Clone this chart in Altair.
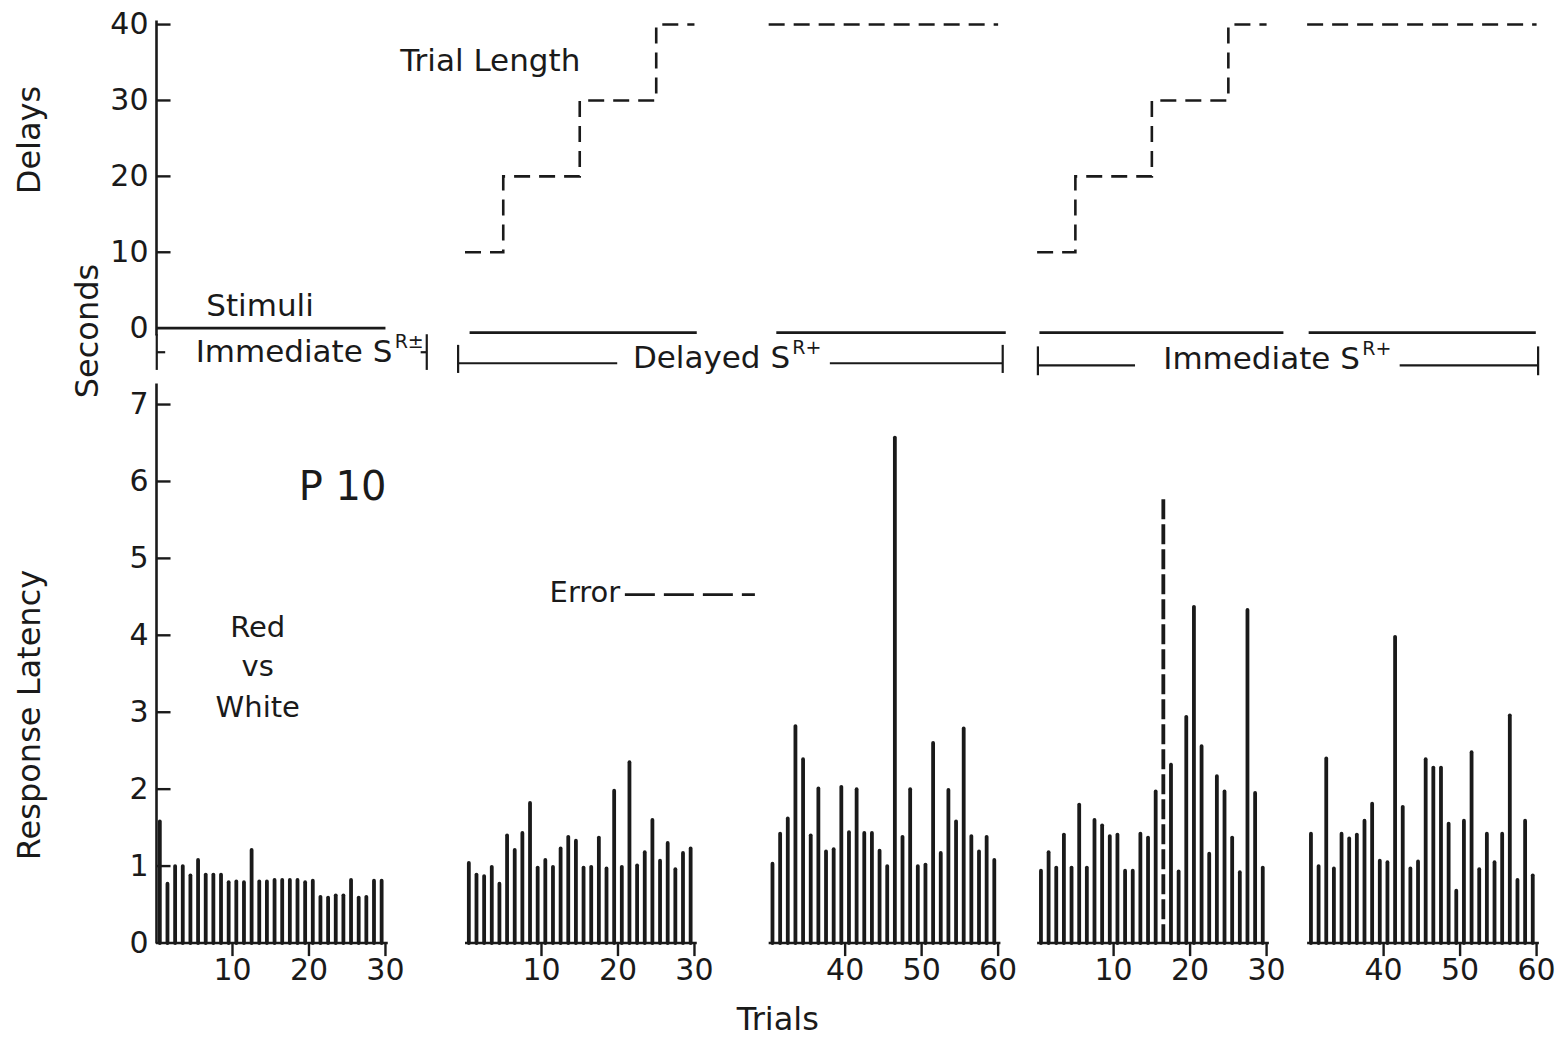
import altair as alt
import pandas as pd

# ---------------------------------------------------------------------------
# Data: response latency (seconds) per trial, five panels of 30 trials
# ---------------------------------------------------------------------------
PANEL_FIRST_TRIAL = [1, 1, 31, 1, 31]

LAT_P1 = [1.58, 0.77, 1.00, 1.00, 0.88, 1.08, 0.89, 0.89, 0.89, 0.79,
          0.80, 0.79, 1.21, 0.80, 0.80, 0.82, 0.82, 0.82, 0.82, 0.79,
          0.81, 0.60, 0.59, 0.62, 0.62, 0.82, 0.59, 0.60, 0.81, 0.81]
LAT_P2 = [1.04, 0.89, 0.87, 0.99, 0.77, 1.40, 1.21, 1.43, 1.82, 0.98,
          1.08, 0.99, 1.23, 1.38, 1.33, 0.98, 0.99, 1.37, 0.97, 1.98,
          0.99, 2.35, 1.01, 1.18, 1.60, 1.07, 1.30, 0.96, 1.17, 1.23]
LAT_P3 = [1.03, 1.42, 1.62, 2.82, 2.39, 1.40, 2.01, 1.19, 1.22, 2.03,
          1.44, 2.00, 1.43, 1.43, 1.20, 1.00, 6.57, 1.38, 2.00, 1.00,
          1.02, 2.60, 1.17, 1.99, 1.58, 2.79, 1.39, 1.19, 1.38, 1.08]
LAT_P4 = [0.94, 1.18, 0.98, 1.41, 0.98, 1.80, 0.98, 1.60, 1.53, 1.39,
          1.41, 0.94, 0.94, 1.42, 1.37, 1.97, 5.77, 2.32, 0.93, 2.94,
          4.37, 2.56, 1.16, 2.17, 1.97, 1.37, 0.92, 4.33, 1.95, 0.98]
LAT_P5 = [1.42, 1.00, 2.40, 0.97, 1.42, 1.36, 1.41, 1.59, 1.81, 1.07,
          1.05, 3.98, 1.77, 0.97, 1.06, 2.39, 2.28, 2.28, 1.55, 0.68,
          1.59, 2.48, 0.96, 1.42, 1.05, 1.42, 2.96, 0.82, 1.59, 0.88]
LATENCIES = [LAT_P1, LAT_P2, LAT_P3, LAT_P4, LAT_P5]

# (panel, trial) answered wrongly -> drawn dashed
ERROR_TRIALS = [(4, 17)]

# Trial-length schedule for the delayed sessions: last trial of block, delay (s)
BLOCK_LAST_TRIAL = [5, 15, 25, 60]
BLOCK_DELAY = [10, 20, 30, 40]
DELAY_PANELS = [2, 3, 4, 5]

X_TICK_LABELS = [[10, 20, 30], [10, 20, 30], [40, 50, 60], [10, 20, 30], [40, 50, 60]]
TOP_TICKS = [0, 10, 20, 30, 40]
BOT_TICKS = [0, 1, 2, 3, 4, 5, 6, 7]

# ---------------------------------------------------------------------------
# Layout: one shared x scale in "trial units"; each panel sits at an origin
# ---------------------------------------------------------------------------
PANEL_ORIGIN = [0.0, 40.4, 50.1, 115.2, 120.5]
X_MAX = 181.6
W, H = 1389, 943
INK = "#1a1a1a"
FONT = "DejaVu Sans"

X = alt.Scale(domain=[0, X_MAX], nice=False, zero=False)
Y_TOP = alt.Scale(domain=[-0.9, 40.6], range=[335, 20], nice=False, zero=False)
Y_BOT = alt.Scale(domain=[0, 7.28], range=[943, 383], nice=False, zero=False)


def gx(panel, local):
    return PANEL_ORIGIN[panel - 1] + local


# bars
bar_rows = []
for p, (first, vals) in enumerate(zip(PANEL_FIRST_TRIAL, LATENCIES), start=1):
    for k, v in enumerate(vals):
        t = first + k
        bar_rows.append({"panel": p, "trial": t, "gx": gx(p, t - 0.5), "lat": v,
                         "error": (p, t) in ERROR_TRIALS})
bars = pd.DataFrame(bar_rows)

# per-panel baselines, x ticks and tick labels
base_rows, tick_rows = [], []
for p, first in enumerate(PANEL_FIRST_TRIAL, start=1):
    base_rows.append({"x": gx(p, first - 1), "x2": gx(p, first + 29.3)})
    for lab in X_TICK_LABELS[p - 1]:
        tick_rows.append({"gx": gx(p, lab), "label": str(lab)})
baselines = pd.DataFrame(base_rows)
xticks = pd.DataFrame(tick_rows)

# delay step lines
step_rows = []
for p in DELAY_PANELS:
    lo = PANEL_FIRST_TRIAL[p - 1] - 1
    hi = lo + 30
    prev = 0
    for last, d in zip(BLOCK_LAST_TRIAL, BLOCK_DELAY):
        if last > lo and prev < hi:
            step_rows.append({"panel": p, "gx": gx(p, max(prev, lo)), "delay": d})
        prev = last
    step_rows.append({"panel": p, "gx": gx(p, hi), "delay": step_rows[-1]["delay"]})
steps = pd.DataFrame(step_rows)

# stimulus bars across the top of each panel
STIM_SPAN = [(0.0, 30.0, 0.0), (0.6, 30.3, -0.6), (31.0, 61.0, -0.6),
             (0.3, 32.2, -0.6), (30.2, 59.9, -0.6)]
stim = pd.DataFrame([{"x": gx(p, a), "x2": gx(p, b), "y": lvl}
                     for p, (a, b, lvl) in enumerate(STIM_SPAN, start=1)])

# reinforcement brackets (horizontal pieces and end ticks)
bracket_h = pd.DataFrame([
    {"x": 0.1, "x2": 1.2, "y": -3.17},
    {"x": 34.6, "x2": 35.4, "y": -3.17},
    {"x": 39.5, "x2": 60.3, "y": -4.62},
    {"x": 88.1, "x2": 110.7, "y": -4.62},
    {"x": 115.3, "x2": 128.0, "y": -4.9},
    {"x": 162.6, "x2": 180.7, "y": -4.9},
])
bracket_v = pd.DataFrame([
    {"x": 0.1, "y": -0.8, "y2": -5.5},
    {"x": 35.4, "y": -0.8, "y2": -5.5},
    {"x": 39.5, "y": -2.2, "y2": -5.9},
    {"x": 110.7, "y": -2.2, "y2": -5.9},
    {"x": 115.3, "y": -2.4, "y2": -6.2},
    {"x": 180.7, "y": -2.4, "y2": -6.2},
])
bracket_text = pd.DataFrame([
    {"x": 30.9, "y": -4.5, "text": "Immediate S"},
    {"x": 82.9, "y": -5.3, "text": "Delayed S"},
    {"x": 157.4, "y": -5.4, "text": "Immediate S"},
])
bracket_sup = pd.DataFrame([
    {"x": 31.2, "y": -2.6, "text": "R±"},
    {"x": 83.2, "y": -3.4, "text": "R+"},
    {"x": 157.7, "y": -3.5, "text": "R+"},
])
top_notes = pd.DataFrame([
    {"x": 43.7, "y": 35.1, "text": "Trial Length"},
    {"x": 13.6, "y": 2.8, "text": "Stimuli"},
])
bot_notes = pd.DataFrame([
    {"x": 13.3, "y": 4.10, "text": "Red", "size": 29},
    {"x": 13.3, "y": 3.59, "text": "vs", "size": 29},
    {"x": 13.3, "y": 3.06, "text": "White", "size": 29},
    {"x": 81.3, "y": -1.0, "text": "Trials", "size": 32},
])
p10 = pd.DataFrame([{"x": 24.4, "y": 5.92, "text": "P 10"}])
err_lab = pd.DataFrame([{"x": 60.7, "y": 4.55, "text": "Error"}])
err_key = pd.DataFrame([{"x": 61.3, "x2": 78.3, "y": 4.53}])
top_ticks = pd.DataFrame([{"x": 0, "x2": 1.9, "y": v} for v in TOP_TICKS[1:]])
bot_ticks = pd.DataFrame([{"x": 0, "x2": 1.9, "y": v} for v in BOT_TICKS[1:]])

NOAX = None


def xq(field="x"):
    return alt.X(f"{field}:Q", scale=X, axis=NOAX)


# ---------------------------------------------------------------------------
# Layers
# ---------------------------------------------------------------------------
bar_layer = alt.Chart(bars).transform_filter("!datum.error").mark_rule(
    color=INK, strokeWidth=3.8, strokeCap="round"
).encode(
    x=xq("gx"),
    y=alt.Y("lat:Q", scale=Y_BOT, axis=alt.Axis(
        orient="left", values=BOT_TICKS, ticks=False, grid=False, title=None,
        domainColor=INK, domainWidth=2.6, labelFont=FONT, labelFontSize=30,
        labelColor=INK, labelPadding=8, labelOverlap=False, labelFlush=False)),
    y2=alt.datum(0),
)

error_layer = alt.Chart(bars).transform_filter("datum.error").mark_rule(
    color=INK, strokeWidth=3.8, strokeDash=[20, 5]
).encode(x=xq("gx"), y=alt.Y("lat:Q", scale=Y_BOT, axis=NOAX), y2=alt.datum(0))

base_layer = alt.Chart(baselines).mark_rule(color=INK, strokeWidth=2.6).encode(
    x=xq("x"), x2="x2:Q", y=alt.Y("y:Q", scale=Y_BOT, axis=NOAX)
).transform_calculate(y="0")

xtick_layer = alt.Chart(xticks).mark_rule(color=INK, strokeWidth=2.4).encode(
    x=xq("gx"), y=alt.Y("y:Q", scale=Y_BOT, axis=NOAX), y2=alt.datum(0)
).transform_calculate(y="-0.17")

xlab_layer = alt.Chart(xticks).mark_text(
    font=FONT, fontSize=30, color=INK, baseline="middle", align="center"
).encode(x=xq("gx"), y=alt.Y("y:Q", scale=Y_BOT, axis=NOAX), text="label:N"
         ).transform_calculate(y="-0.37")

bot_tick_layer = alt.Chart(bot_ticks).mark_rule(color=INK, strokeWidth=2.4).encode(
    x=xq("x"), x2="x2:Q", y=alt.Y("y:Q", scale=Y_BOT, axis=NOAX))

step_layer = alt.Chart(steps).mark_line(
    interpolate="step-after", color=INK, strokeWidth=2.6, strokeDash=[16, 9]
).encode(
    x=xq("gx"),
    y=alt.Y("delay:Q", scale=Y_TOP, axis=alt.Axis(
        orient="left", values=TOP_TICKS, ticks=False, grid=False, title=None,
        domainColor=INK, domainWidth=2.6, labelFont=FONT, labelFontSize=30,
        labelColor=INK, labelPadding=8, labelOverlap=False, labelFlush=False)),
    detail="panel:N",
)

top_tick_layer = alt.Chart(top_ticks).mark_rule(color=INK, strokeWidth=2.4).encode(
    x=xq("x"), x2="x2:Q", y=alt.Y("y:Q", scale=Y_TOP, axis=NOAX))

stim_layer = alt.Chart(stim).mark_rule(color=INK, strokeWidth=2.8).encode(
    x=xq("x"), x2="x2:Q", y=alt.Y("y:Q", scale=Y_TOP, axis=NOAX))

brh_layer = alt.Chart(bracket_h).mark_rule(color=INK, strokeWidth=2.2).encode(
    x=xq("x"), x2="x2:Q", y=alt.Y("y:Q", scale=Y_TOP, axis=NOAX))

brv_layer = alt.Chart(bracket_v).mark_rule(color=INK, strokeWidth=2.2).encode(
    x=xq("x"), y=alt.Y("y:Q", scale=Y_TOP, axis=NOAX), y2="y2:Q")

brt_layer = alt.Chart(bracket_text).mark_text(
    font=FONT, fontSize=31, color=INK, align="right", baseline="alphabetic"
).encode(x=xq("x"), y=alt.Y("y:Q", scale=Y_TOP, axis=NOAX), text="text:N")

brs_layer = alt.Chart(bracket_sup).mark_text(
    font=FONT, fontSize=19, color=INK, align="left", baseline="alphabetic"
).encode(x=xq("x"), y=alt.Y("y:Q", scale=Y_TOP, axis=NOAX), text="text:N")

top_note_layer = alt.Chart(top_notes).mark_text(
    font=FONT, fontSize=31, color=INK, align="center", baseline="middle"
).encode(x=xq("x"), y=alt.Y("y:Q", scale=Y_TOP, axis=NOAX), text="text:N")

bot_note_layer = alt.Chart(bot_notes).mark_text(
    font=FONT, color=INK, align="center", baseline="middle"
).encode(x=xq("x"), y=alt.Y("y:Q", scale=Y_BOT, axis=NOAX), text="text:N",
         size=alt.Size("size:Q", scale=None, legend=None))

p10_layer = alt.Chart(p10).mark_text(
    font=FONT, fontSize=40, color=INK, align="center", baseline="middle"
).encode(x=xq("x"), y=alt.Y("y:Q", scale=Y_BOT, axis=NOAX), text="text:N")

err_lab_layer = alt.Chart(err_lab).mark_text(
    font=FONT, fontSize=29, color=INK, align="right", baseline="middle"
).encode(x=xq("x"), y=alt.Y("y:Q", scale=Y_BOT, axis=NOAX), text="text:N")

err_key_layer = alt.Chart(err_key).mark_rule(
    color=INK, strokeWidth=2.8, strokeDash=[30, 9]
).encode(x=xq("x"), x2="x2:Q", y=alt.Y("y:Q", scale=Y_BOT, axis=NOAX))

# rotated axis titles, placed beside the two value axes
titles = pd.DataFrame([
    {"text": "Delays", "px": -126, "py": 140},
    {"text": "Seconds", "px": -68, "py": 331},
    {"text": "Response Latency", "px": -126, "py": 715},
])
title_layer = alt.Chart(titles).mark_text(
    font=FONT, fontSize=32, color=INK, angle=270, align="center", baseline="middle"
).encode(x=alt.X("px:Q", scale=None, axis=NOAX),
         y=alt.Y("py:Q", scale=None, axis=NOAX), text="text:N")

chart = alt.layer(
    bar_layer, error_layer, base_layer, xtick_layer, xlab_layer, bot_tick_layer,
    step_layer, top_tick_layer, stim_layer, brh_layer, brv_layer, brt_layer,
    brs_layer, top_note_layer, bot_note_layer, p10_layer, err_lab_layer,
    err_key_layer, title_layer,
).resolve_scale(y="independent").properties(
    width=W, height=H,
    autosize=alt.AutoSizeParams(type="none"),
    padding={"left": 156, "top": 0, "right": 20, "bottom": 97},
    background="#ffffff",
).configure_view(stroke=None)

chart.save("out.html", embed_options={"renderer": "svg", "actions": False})
